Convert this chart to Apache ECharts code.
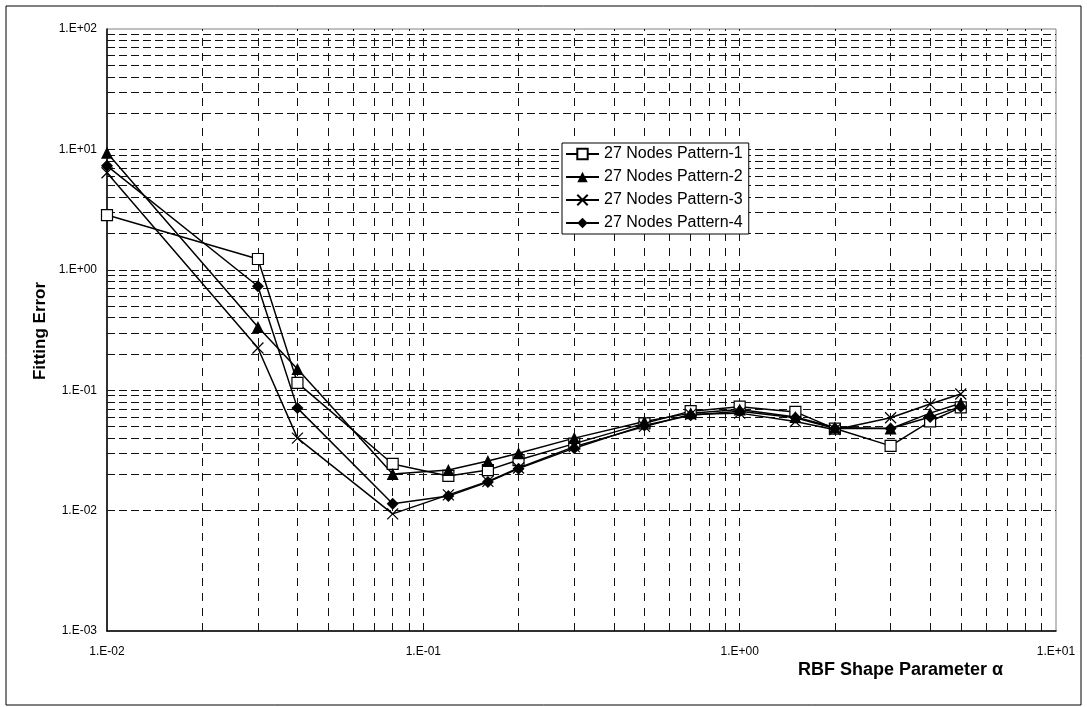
<!DOCTYPE html>
<html lang="en">
<head>
  <meta charset="UTF-8">
  <title>Fitting Error vs RBF Shape Parameter</title>
  <style>
    html, body { margin: 0; padding: 0; background: #fff; }
  </style>
</head>
<body>
  <div id="main" style="width: 1087px;height:707px;"></div>

  <script src="https://cdn.jsdelivr.net/npm/echarts@6/dist/echarts.min.js"></script>
  <script>
    const myChart = echarts.init(document.getElementById('main'));

    // shape parameter values (x)
    const alphaValues = [0.01, 0.03, 0.04, 0.08, 0.12, 0.16, 0.2, 0.3, 0.5, 0.7, 1, 1.5, 2, 3, 4, 5];

    // fitting error per pattern
    const pattern1 = [2.85, 1.23, 0.115, 0.0244, 0.0194, 0.0217, 0.0263, 0.036, 0.053, 0.067, 0.073, 0.066, 0.048, 0.0345, 0.055, 0.072];
    const pattern2 = [9.4, 0.335, 0.15, 0.0201, 0.0217, 0.0258, 0.030, 0.040, 0.055, 0.0645, 0.069, 0.060, 0.049, 0.048, 0.0645, 0.078];
    const pattern3 = [6.4, 0.224, 0.040, 0.0094, 0.0135, 0.0175, 0.0226, 0.034, 0.050, 0.063, 0.0645, 0.055, 0.047, 0.059, 0.0767, 0.093];
    const pattern4 = [7.3, 0.73, 0.071, 0.0114, 0.0132, 0.0173, 0.0223, 0.033, 0.051, 0.062, 0.067, 0.059, 0.048, 0.048, 0.060, 0.073];

    const seriesNames = ['27 Nodes Pattern-1', '27 Nodes Pattern-2', '27 Nodes Pattern-3', '27 Nodes Pattern-4'];

    // grid line positions (1..9 x each decade, without the plot edges)
    const mantissas = [1, 2, 3, 4, 5, 6, 7, 8, 9];
    const xDecades = [0.01, 0.1, 1];
    const yDecades = [0.001, 0.01, 0.1, 1, 10];
    const xGridValues = [];
    xDecades.forEach(d => mantissas.forEach(m => xGridValues.push(+(d * m).toPrecision(3))));
    const yGridValues = [];
    yDecades.forEach(d => mantissas.forEach(m => yGridValues.push(+(d * m).toPrecision(3))));
    xGridValues.shift();
    yGridValues.shift();

    const sciLabel = function (value) {
      const e = Math.round(Math.log10(value));
      return '1.E' + (e < 0 ? '-' : '+') + String(Math.abs(e)).padStart(2, '0');
    };

    const toPairs = ys => alphaValues.map((x, i) => [x, ys[i]]);

    const lineStyle = { color: '#000', width: 1.5 };

    const options = {
      animation: false,
      backgroundColor: '#fff',
      grid: {
        left: 107,
        right: 31,
        top: 29,
        bottom: 76,
        show: true,
        borderColor: '#808080',
        borderWidth: 1
      },
      legend: {
        data: seriesNames,
        orient: 'vertical',
        left: 562,
        top: 143,
        z: 10,
        itemWidth: 33,
        itemHeight: 13,
        itemGap: 7,
        padding: [3, 6, 3, 3],
        backgroundColor: '#fff',
        borderColor: '#000',
        borderWidth: 1,
        textStyle: {
          fontFamily: 'Liberation Sans, Arial',
          fontSize: 16,
          color: '#000',
          lineHeight: 16
        }
      },
      xAxis: {
        type: 'log',
        logBase: 10,
        min: 0.01,
        max: 10,
        axisLine: { show: true, onZero: false, lineStyle: { color: '#000', width: 1.5 } },
        axisTick: { show: false },
        splitLine: { show: false },
        axisLabel: {
          formatter: sciLabel,
          margin: 15,
          fontFamily: 'Liberation Sans, Arial',
          fontSize: 12,
          color: '#000'
        }
      },
      yAxis: {
        type: 'log',
        logBase: 10,
        min: 0.001,
        max: 100,
        axisLine: { show: true, lineStyle: { color: '#000', width: 1.5 } },
        axisTick: { show: false },
        splitLine: { show: false },
        axisLabel: {
          formatter: sciLabel,
          margin: 10,
          fontFamily: 'Liberation Sans, Arial',
          fontSize: 12,
          color: '#000'
        }
      },
      graphic: [
        {
          type: 'rect',
          z: -10,
          shape: { x: 6, y: 6, width: 1075, height: 699 },
          style: { fill: 'none', stroke: '#000', lineWidth: 1 }
        },
        {
          type: 'text',
          x: 40,
          y: 331,
          rotation: Math.PI / 2,
          style: {
            text: 'Fitting Error',
            fontFamily: 'Liberation Sans, Arial',
            fontWeight: 'bold',
            fontSize: 17,
            fill: '#000',
            align: 'center',
            verticalAlign: 'middle'
          }
        },
        {
          type: 'text',
          x: 798,
          y: 670,
          style: {
            text: 'RBF Shape Parameter α',
            fontFamily: 'Liberation Sans, Arial',
            fontWeight: 'bold',
            fontSize: 18,
            fill: '#000',
            align: 'left',
            verticalAlign: 'middle'
          }
        }
      ],
      series: [
        {
          name: 'gridlines',
          type: 'line',
          data: [],
          z: 1,
          silent: true,
          markLine: {
            silent: true,
            z: 1,
            symbol: 'none',
            label: { show: false },
            animation: false,
            data: [
              ...xGridValues.map(v => ({ xAxis: v, lineStyle: { type: [8, 7], color: '#111', width: 1 } })),
              ...yGridValues.map(v => ({ yAxis: v, lineStyle: { type: [8, 4], color: '#111', width: 1 } }))
            ]
          }
        },
        {
          name: seriesNames[0],
          type: 'line',
          z: 3,
          symbol: 'rect',
          symbolSize: 11,
          itemStyle: { color: '#fff', borderColor: '#000', borderWidth: 1.2 },
          lineStyle: lineStyle,
          data: toPairs(pattern1)
        },
        {
          name: seriesNames[1],
          type: 'line',
          z: 3,
          symbol: 'triangle',
          symbolSize: 12,
          itemStyle: { color: '#000' },
          lineStyle: lineStyle,
          data: toPairs(pattern2)
        },
        {
          name: seriesNames[2],
          type: 'line',
          z: 3,
          symbol: 'path://M0,0L10,10M10,0L0,10',
          symbolSize: 11,
          itemStyle: { color: '#000', borderColor: '#000', borderWidth: 1.2 },
          lineStyle: lineStyle,
          data: toPairs(pattern3)
        },
        {
          name: seriesNames[3],
          type: 'line',
          z: 3,
          symbol: 'diamond',
          symbolSize: 12,
          itemStyle: { color: '#000' },
          lineStyle: lineStyle,
          data: toPairs(pattern4)
        }
      ]
    };

    myChart.setOption(options);
  </script>
</body>
</html>
